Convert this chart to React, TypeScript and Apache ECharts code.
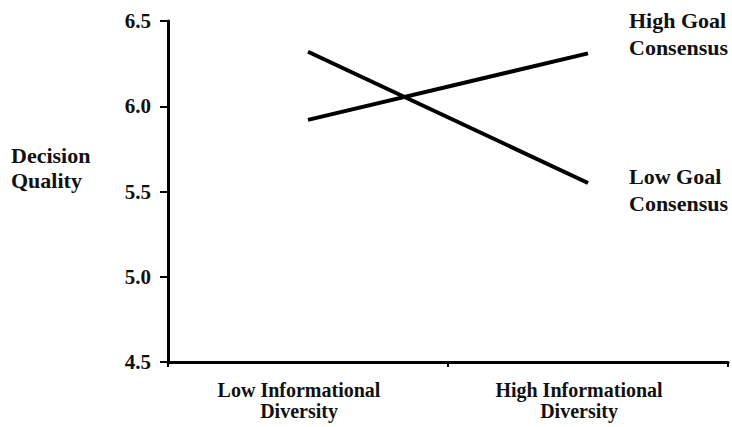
import React, { useEffect, useRef } from "react";
import * as echarts from "echarts";

const categories = ["Low Informational\nDiversity", "High Informational\nDiversity"];
const highGoal = [5.92, 6.31];
const lowGoal = [6.32, 5.55];
const yTicks = [4.5, 5.0, 5.5, 6.0, 6.5];
const yAxisTitle = "Decision\nQuality";
const seriesNames = ["High Goal\nConsensus", "Low Goal\nConsensus"];

const FONT = "Liberation Serif";

export default function App() {
  const ref = useRef<HTMLDivElement>(null);
  useEffect(() => {
    if (!ref.current) return;
    const chart = echarts.init(ref.current, null, { renderer: "svg" });
    chart.setOption({
      animation: false,
      backgroundColor: "#ffffff",
      textStyle: { fontFamily: FONT },
      grid: { left: 168, right: 4, top: 21, bottom: 65, containLabel: false },
      xAxis: {
        type: "category",
        data: categories,
        boundaryGap: true,
        axisLine: { lineStyle: { color: "#000", width: 3 } },
        axisTick: { show: true, length: 5, lineStyle: { color: "#000", width: 2 } },
        axisLabel: {
          color: "#111",
          fontFamily: FONT,
          fontWeight: "bold",
          fontSize: 20,
          lineHeight: 21,
          margin: 17,
          padding: [0, 18, 0, 0],
        },
        splitLine: { show: false },
      },
      yAxis: {
        type: "value",
        min: 4.5,
        max: 6.5,
        interval: 0.5,
        axisLine: { show: true, lineStyle: { color: "#000", width: 3 } },
        axisTick: { show: true, length: 8, lineStyle: { color: "#000", width: 2 } },
        axisLabel: {
          color: "#111",
          fontFamily: FONT,
          fontWeight: "bold",
          fontSize: 21,
          margin: 17,
          formatter: (v: number) => (yTicks.includes(v) ? v.toFixed(1) : ""),
        },
        splitLine: { show: false },
      },
      graphic: [
        {
          type: "text",
          left: 11,
          top: 143,
          style: {
            text: yAxisTitle,
            fill: "#111",
            fontFamily: FONT,
            fontWeight: "bold",
            fontSize: 22,
            lineHeight: 25,
          },
        },
      ],
      series: [
        {
          name: seriesNames[0],
          type: "line",
          data: highGoal,
          symbol: "none",
          lineStyle: { color: "#000", width: 4 },
          endLabel: {
            show: true,
            formatter: () => seriesNames[0],
            color: "#111",
            fontFamily: FONT,
            fontWeight: "bold",
            fontSize: 22,
            lineHeight: 27,
            offset: [33, -19],
          },
        },
        {
          name: seriesNames[1],
          type: "line",
          data: lowGoal,
          symbol: "none",
          lineStyle: { color: "#000", width: 4 },
          endLabel: {
            show: true,
            formatter: () => seriesNames[1],
            color: "#111",
            fontFamily: FONT,
            fontWeight: "bold",
            fontSize: 22,
            lineHeight: 27,
            offset: [33, 7],
          },
        },
      ],
    });
    return () => chart.dispose();
  }, []);
  return <div ref={ref} style={{ width: 732, height: 427, position: "absolute", left: 0, top: 0 }} />;
}
